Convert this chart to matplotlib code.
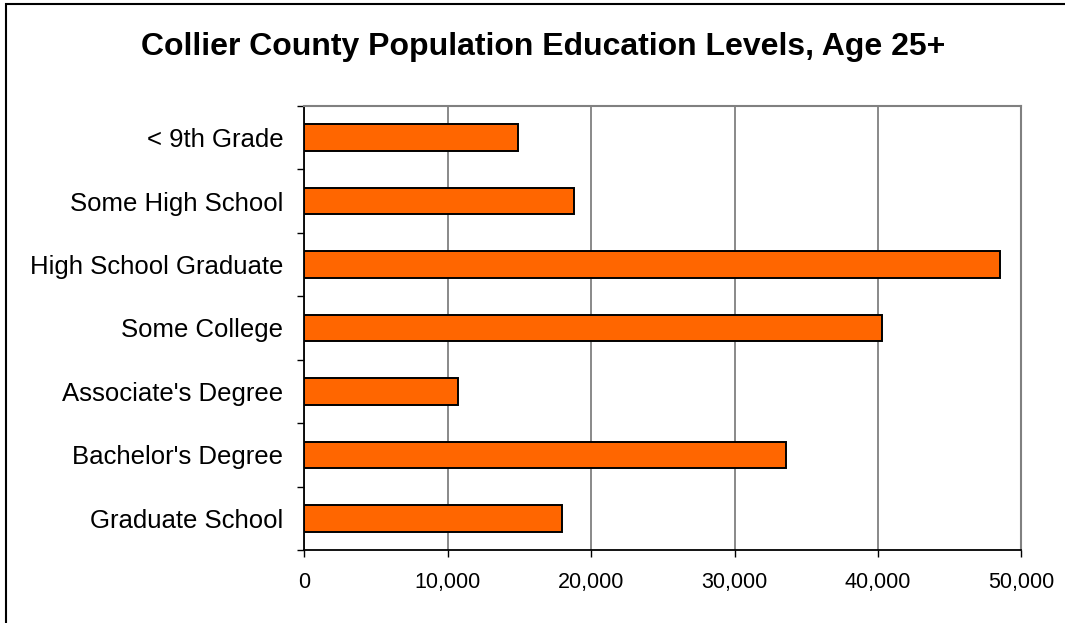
import matplotlib
matplotlib.use('Agg')
import matplotlib.pyplot as plt
import matplotlib.patches as patches
from matplotlib.ticker import FuncFormatter, MultipleLocator, FixedLocator

categories = ["< 9th Grade", "Some High School", "High School Graduate", "Some College",
              "Associate's Degree", "Bachelor's Degree", "Graduate School"]
population = [14900, 18800, 48500, 40250, 10700, 33600, 17950]
title = "Collier County Population Education Levels, Age 25+"

plt.rcParams['font.family'] = ['Liberation Sans', 'DejaVu Sans']

W, H = 1065, 623
fig = plt.figure(figsize=(W / 100, H / 100), dpi=100)
fig.patch.set_facecolor('white')

# outer chart border (only top and left visible in the crop)
fig.add_artist(patches.Rectangle((6 / W, -0.1), 1.2, 1 - 4.5 / H + 0.1, transform=fig.transFigure,
                                 fill=False, edgecolor='black', linewidth=1.5))

ax = fig.add_axes([304 / W, 1 - 550 / H, (1021.5 - 304) / W, (550 - 106) / H])
y = list(range(len(categories)))
ax.barh(y, population, height=0.42, color='#FF6600', edgecolor='black', linewidth=1.4, zorder=3)

ax.set_xlim(0, 50000)
ax.set_ylim(len(categories) - 0.5, -0.5)
ax.xaxis.set_major_locator(MultipleLocator(10000))
ax.xaxis.set_major_formatter(FuncFormatter(lambda v, p: f'{int(v):,}'))
ax.grid(axis='x', color='#808080', linewidth=1.3, zorder=1)

ax.set_yticks(y)
ax.set_yticklabels(categories)
ax.yaxis.set_minor_locator(FixedLocator([i - 0.5 for i in range(len(categories) + 1)]))
ax.tick_params(axis='y', which='major', length=0, pad=15, labelsize=18.5)
ax.tick_params(axis='y', which='minor', length=5, width=1, direction='out')
ax.tick_params(axis='x', which='major', length=5, width=1, direction='out', pad=11, labelsize=15.5)

for s in ['left', 'bottom']:
    ax.spines[s].set_color('black')
    ax.spines[s].set_linewidth(1.3)
for s in ['top', 'right']:
    ax.spines[s].set_color('#808080')
    ax.spines[s].set_linewidth(1.5)

fig.text(543 / W, 1 - 47 / H, title, ha='center', va='center', fontsize=23, fontweight='bold')

fig.savefig('out.png', dpi=100)
